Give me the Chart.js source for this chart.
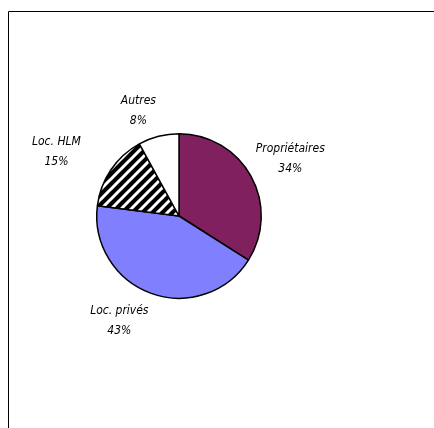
<!DOCTYPE html>
<html>
<head>
<meta charset="utf-8">
<script src="https://cdn.jsdelivr.net/npm/chart.js@4/dist/chart.umd.min.js"></script>
<style>
  html, body { margin: 0; padding: 0; background: #fff; }
  canvas { display: block; }
</style>
</head>
<body>
<canvas id="pieChart" width="434" height="428"></canvas>
<script>
// categories and shares (%), clockwise from 12 o'clock
const categories = ["Propriétaires", "Loc. privés", "Loc. HLM", "Autres"];
const shares = [34, 43, 15, 8];

// small hand nudges for the labels, like Excel's best-fit
const labelShift = [[-5, 7], [-19, -8], [-20, 6], [-12, 6]];

// black/white diagonal stripes for the HLM slice
function stripes() {
	const size = 10;
	const c = document.createElement("canvas");
	c.width = size;
	c.height = size;
	const g = c.getContext("2d");
	g.fillStyle = "#000";
	g.fillRect(0, 0, size, size);
	g.strokeStyle = "#fff";
	g.lineWidth = 3;
	g.beginPath();
	for (let k = -1; k <= 1; k++) {
		g.moveTo(k * size - size, size * 2);
		g.lineTo(k * size + size * 2, -size);
	}
	g.stroke();
	return g.createPattern(c, "repeat");
}

const colours = ["#80205f", "#8080ff", stripes(), "#ffffff"];

// outer frame (top + left edges only, like the source image)
const framePlugin = {
	id: "frame",
	beforeDraw(chart) {
		const ctx = chart.ctx;
		ctx.save();
		ctx.strokeStyle = "#000";
		ctx.lineWidth = 1;
		ctx.beginPath();
		ctx.moveTo(8.5, 428);
		ctx.lineTo(8.5, 11.5);
		ctx.lineTo(434, 11.5);
		ctx.stroke();
		ctx.restore();
	},
};

// two-line labels outside the pie
const labelPlugin = {
	id: "pieLabels",
	afterDraw(chart) {
		const ctx = chart.ctx;
		const total = shares.reduce((a, b) => a + b, 0);
		ctx.save();
		ctx.font = "italic 12px 'Liberation Sans Narrow', 'Arial Narrow', 'DejaVu Sans Condensed', sans-serif";
		ctx.fillStyle = "#000";
		ctx.textAlign = "center";
		ctx.textBaseline = "middle";
		chart.getDatasetMeta(0).data.forEach((arc, i) => {
			const p = arc.getProps(["x", "y", "startAngle", "endAngle", "outerRadius"], true);
			const mid = (p.startAngle + p.endAngle) / 2;
			const ux = Math.cos(mid);
			const uy = Math.sin(mid);
			const pct = Math.round((shares[i] / total) * 100) + "%";
			const w = Math.max(ctx.measureText(categories[i]).width, ctx.measureText(pct).width);
			const h = 34;
			const d = p.outerRadius + 12 + Math.abs(ux) * w / 2 + Math.abs(uy) * h / 2;
			const cx = p.x + ux * d + labelShift[i][0];
			const cy = p.y + uy * d + labelShift[i][1];
			ctx.fillText(categories[i], cx, cy - 10);
			ctx.fillText(pct, cx, cy + 10);
		});
		ctx.restore();
	},
};

new Chart(document.getElementById("pieChart"), {
	type: "pie",
	data: {
		labels: categories,
		datasets: [
			{
				data: shares,
				backgroundColor: colours,
				borderColor: "#000",
				borderWidth: 1.5,
			},
		],
	},
	options: {
		responsive: false,
		animation: false,
		layout: {
			padding: { left: 96, right: 172, top: 133, bottom: 129 },
		},
		plugins: {
			legend: { display: false },
			tooltip: { enabled: false },
		},
	},
	plugins: [framePlugin, labelPlugin],
});
</script>
</body>
</html>
